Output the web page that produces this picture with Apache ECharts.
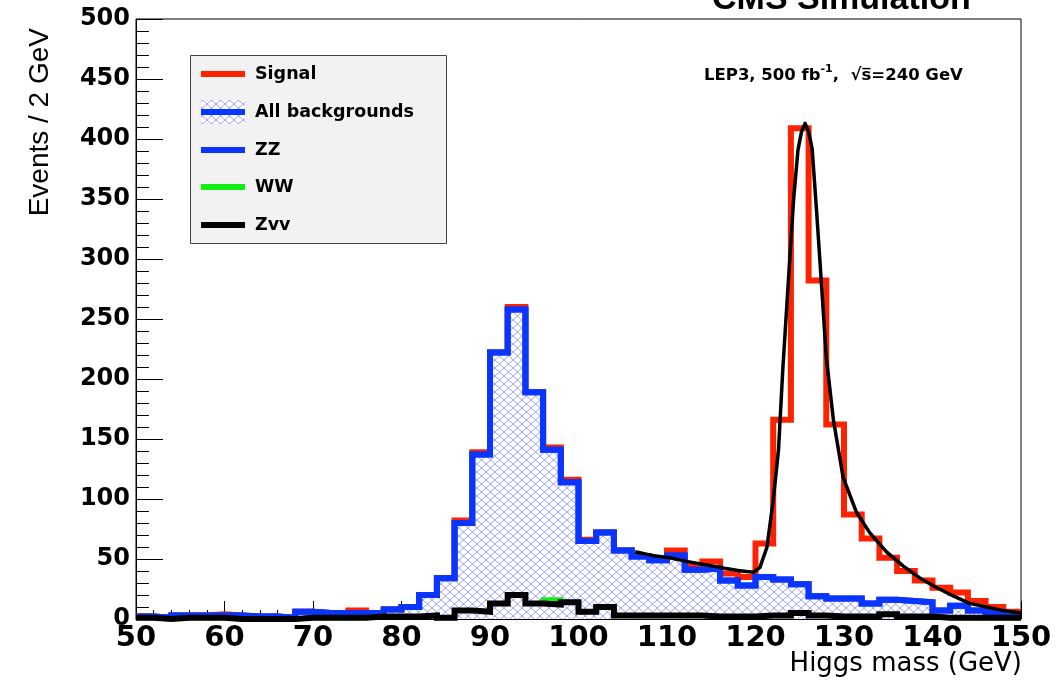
<!DOCTYPE html>
<html><head><meta charset="utf-8">
<script src="https://cdn.jsdelivr.net/npm/echarts@6/dist/echarts.min.js"></script>
<style>html,body{margin:0;padding:0;background:#fff}#c{width:1059px;height:682px}</style>
</head><body><div id="c"></div>
<script>
// ---- data (Events / 2 GeV, bins of 2 GeV from 50 to 150) ----
const binLow = Array.from({length: 50}, (_, i) => 50 + 2 * i);
const binHigh = 150;
const xTicks = [50, 60, 70, 80, 90, 100, 110, 120, 130, 140, 150];
const yTicks = [0, 50, 100, 150, 200, 250, 300, 350, 400, 450, 500];

// Signal stacked on all backgrounds (red outline)
const signalStack = [2,1,3,3,4,3,2,2,1,6, 5,5,7,5,8,10,20,34,82,139, 222,260,189,143,116,66,72,57,52,49, 57,44,48,38,35,63,166,409,282,162, 87,67,51,40,32,26,22,15,10,6];
// All backgrounds (ZZ + WW + Zvv), blue outline, hatched
const allBkg = [2,1,3,3,3,3,2,2,1,6, 5,5,5,5,8,10,20,34,80,137, 222,258,189,141,114,65,72,57,52,49, 53,41,42,32,28,35,33,29,19,17, 17,13,16,15,14,7,11,7,5,4];
// WW stacked on Zvv (green)
const wwStack = [1,0,1,1,1,0,0,0,0,1, 1,1,1,2,2,2,3,1,7,6, 13,20,13,16,14,6,10,3,3,3, 3,3,2,2,2,3,3,5,3,2, 2,2,4,2,2,1,1,1,1,1];
// Zvv (black)
const zvv = [1,0,1,1,1,0,0,0,0,1, 1,1,1,2,2,2,3,1,7,6, 13,20,13,12,14,6,10,3,3,3, 3,3,2,2,2,3,3,5,3,2, 2,2,4,2,2,1,1,1,1,1];
// Fit of signal + background (black curve), [mass, events]
const fitMass = [106.4,108.3,110.3,112.2,114.5,116.7,118.0,119.0,119.8,120.5,121.3,122.0,122.6,123.1,123.7,124.3,124.8,125.2,125.6,126.0,126.4,126.9,127.5,128.0,128.8,129.9,131.4,132.9,134.8,136.7,138.6,140.5,142.4,144.2,146.1,148.0,150.0];
const fitEvents = [56,53,51,48,45,42,40.5,39.5,39,43,60,99,141,210,280,349,391,406,413,406,392,340,274,218,166,118,89,72,56,44,34,26,19,13,10,7,5];

const legendNames = ['Signal', 'All backgrounds', 'ZZ', 'WW', 'Zvv'];

// ---- colours ----
const RED = '#ff2200', BLUE = '#0a35ff', GREEN = '#11ee11', BLACK = '#000';

function steps(vals) {
  return vals.map((v, i) => [binLow[i], v]).concat([[binHigh, vals[vals.length - 1]]]);
}
function hatch() {
  const c = document.createElement('canvas');
  c.width = 9; c.height = 8;
  const g = c.getContext('2d');
  g.fillStyle = '#fff'; g.fillRect(0, 0, 9, 8);
  g.strokeStyle = 'rgba(90,100,255,0.6)'; g.lineWidth = 1;
  g.beginPath(); g.moveTo(0, 0); g.lineTo(9, 8); g.moveTo(9, 0); g.lineTo(0, 8); g.stroke();
  return c;
}
const hatchImg = hatch();

const chart = echarts.init(document.getElementById('c'), null, {renderer: 'canvas'});
const FONT = 'DejaVu Sans';

function histSeries(name, vals, color, z, width, extra) {
  return Object.assign({
    name, type: 'line', step: 'end', data: steps(vals), symbol: 'none', clip: false,
    lineStyle: {color, width, join: 'miter'}, itemStyle: {color}, z, animation: false
  }, extra || {});
}

const lx1 = 201, lx2 = 245, rows = [74, 112, 150, 187, 225];
const legendColors = [RED, BLUE, BLUE, GREEN, BLACK];
const graphics = [
  {type: 'text', x: 712, y: 0, style: {text: 'CMS Simulation', font: 'bold 34px "Liberation Sans"', fill: '#000', textAlign: 'left', textVerticalAlign: 'middle'}},
  {type: 'text', x: 704, y: 74, style: {
    text: '{a|LEP3, 500 fb}{s|-1}{a|,  √s̅=240 GeV}', fill: '#000', textAlign: 'left', textVerticalAlign: 'middle',
    rich: {a: {fontFamily: FONT, fontWeight: 'bold', fontSize: 16.5, lineHeight: 21, verticalAlign: 'bottom'},
           s: {fontFamily: FONT, fontWeight: 'bold', fontSize: 11, lineHeight: 21, verticalAlign: 'top'}}
  }},
  {type: 'text', x: 40, y: 28, rotation: Math.PI / 2, style: {text: 'Events / 2 GeV', font: '28px "Liberation Sans"', fill: '#000', textAlign: 'right', textVerticalAlign: 'middle'}},
  {type: 'text', x: 1022, y: 664, style: {text: 'Higgs mass (GeV)', font: '26px "DejaVu Sans"', fill: '#000', textAlign: 'right', textVerticalAlign: 'middle'}},
  {type: 'rect', shape: {x: 190.5, y: 55.5, width: 256, height: 188}, style: {fill: '#f2f2f2', stroke: '#444', lineWidth: 1}, z: 10}
];
graphics.push({type: 'rect', shape: {x: lx1, y: rows[1] - 12, width: lx2 - lx1, height: 24}, style: {fill: {image: hatchImg, repeat: 'repeat'}}, z: 11});
legendNames.forEach((n, i) => {
  graphics.push({type: 'line', shape: {x1: lx1, y1: rows[i], x2: lx2, y2: rows[i]}, style: {stroke: legendColors[i], lineWidth: 6}, z: 12});
  graphics.push({type: 'text', x: 255, y: rows[i], style: {text: n, font: 'bold 17.5px "DejaVu Sans"', fill: '#000', textAlign: 'left', textVerticalAlign: 'middle'}, z: 12});
});

const option = {
  backgroundColor: '#fff',
  animation: false,
  grid: {left: 136, right: 38, top: 19, bottom: 63, show: true, borderColor: '#000', borderWidth: 1, backgroundColor: 'transparent'},
  xAxis: {
    type: 'value', min: xTicks[0], max: xTicks[xTicks.length - 1], interval: 10,
    axisLine: {show: true, onZero: false, lineStyle: {color: '#000', width: 1}},
    axisTick: {show: true, inside: true, length: 18, lineStyle: {color: '#000'}},
    minorTick: {show: true, splitNumber: 5, length: 9, lineStyle: {color: '#000'}},
    splitLine: {show: false},
    axisLabel: {margin: 5, fontFamily: FONT, fontWeight: 'bold', fontSize: 29, color: '#000',
      formatter: v => xTicks.includes(v) ? String(v) : ''}
  },
  yAxis: {
    type: 'value', min: yTicks[0], max: yTicks[yTicks.length - 1], interval: 50,
    axisLine: {show: true, lineStyle: {color: '#000', width: 1}},
    axisTick: {show: true, inside: true, length: 27, lineStyle: {color: '#000'}},
    minorTick: {show: true, splitNumber: 5, length: 13, lineStyle: {color: '#000'}},
    splitLine: {show: false},
    axisLabel: {margin: 6, fontFamily: FONT, fontWeight: 'bold', fontSize: 24, color: '#000',
      formatter: v => yTicks.includes(v) ? String(v) : ''}
  },
  series: [
    histSeries('Signal', signalStack, RED, 1, 6),
    histSeries('All backgrounds', allBkg, BLUE, 2, 6, {areaStyle: {color: {image: hatchImg, repeat: 'repeat'}, opacity: 1}}),
    histSeries('ZZ', allBkg, BLUE, 3, 6),
    histSeries('WW', wwStack, GREEN, 4, 5),
    histSeries('Zvv', zvv, BLACK, 5, 6),
    {name: 'Fit', type: 'line', data: fitMass.map((m, i) => [m, fitEvents[i]]), symbol: 'none',
     smooth: false, clip: false, lineStyle: {color: BLACK, width: 3.5, join: 'round'}, z: 6, animation: false}
  ],
  graphic: graphics
};
chart.setOption(option);
</script></body></html>
